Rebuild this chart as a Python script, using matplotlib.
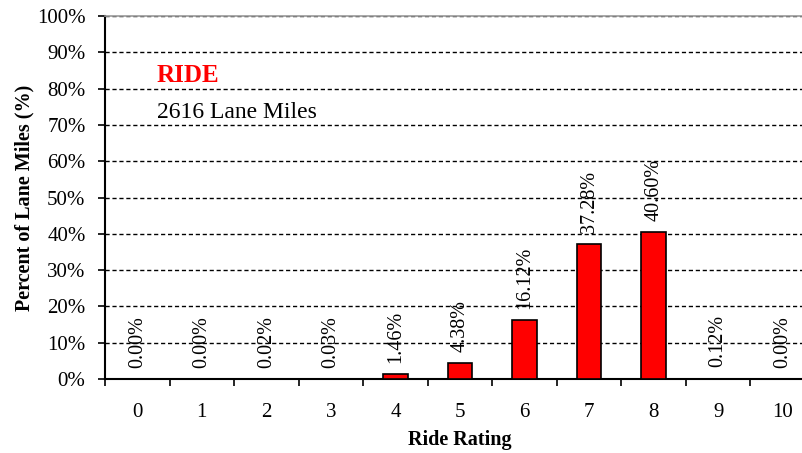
import matplotlib
matplotlib.use("Agg")
import matplotlib.pyplot as plt
import numpy as np

ratings = [0, 1, 2, 3, 4, 5, 6, 7, 8, 9, 10]
percents = [0.00, 0.00, 0.02, 0.03, 1.46, 4.38, 16.12, 37.28, 40.60, 0.12, 0.00]
y_ticks = [0, 10, 20, 30, 40, 50, 60, 70, 80, 90, 100]

plt.rcParams['font.family'] = ['Liberation Serif', 'DejaVu Serif']

fig = plt.figure(figsize=(8.02, 4.53), dpi=100)
ax = fig.add_axes([105/802, 1-379/453, 710/802, 363/453])

ax.bar(ratings, percents, width=0.38, color='#ff0000', edgecolor='black', linewidth=1.2, zorder=3)

for x, v in zip(ratings, percents):
    ax.annotate(f"{v:.2f}%", xy=(x, v), xytext=(0, 8), textcoords='offset points',
                rotation=90, ha='center', va='bottom', fontsize=14.5, zorder=4)

ax.set_xlim(-0.5, 10.5)
ax.set_ylim(0, 100)
ax.set_yticks(y_ticks)
ax.set_yticklabels([f"{t}%" for t in y_ticks], fontsize=15)
ax.yaxis.grid(True, linestyle=(0, (3, 2)), color='black', linewidth=1)
ax.set_axisbelow(True)

ax.set_xticks(np.arange(-0.5, 11, 1))
ax.set_xticklabels([])
ax.set_xticks(ratings, minor=True)
ax.set_xticklabels([str(r) for r in ratings], minor=True, fontsize=15)
ax.tick_params(axis='x', which='minor', length=0, pad=17)
ax.tick_params(axis='x', which='major', length=5, width=1.2, direction='out')
ax.tick_params(axis='y', length=5, width=1.2, direction='out', pad=9)

for s in ['left', 'bottom']:
    ax.spines[s].set_linewidth(1.5)
    ax.spines[s].set_color('black')
ax.spines['top'].set_color('#999999')
ax.spines['top'].set_linewidth(1.2)
ax.spines['right'].set_visible(False)

ax.set_ylabel("Percent of Lane Miles (%)", fontsize=14.5, fontweight='bold', labelpad=2)
ax.set_xlabel("Ride Rating", fontsize=14.5, fontweight='bold', labelpad=6)

fig.text(157/802, 1-75/453, "RIDE", color='#ff0000', fontsize=18, fontweight='bold', va='center', ha='left')
fig.text(157/802, 1-113/453, "2616 Lane Miles", color='black', fontsize=17, va='center', ha='left')

fig.savefig("out.png", dpi=100)
